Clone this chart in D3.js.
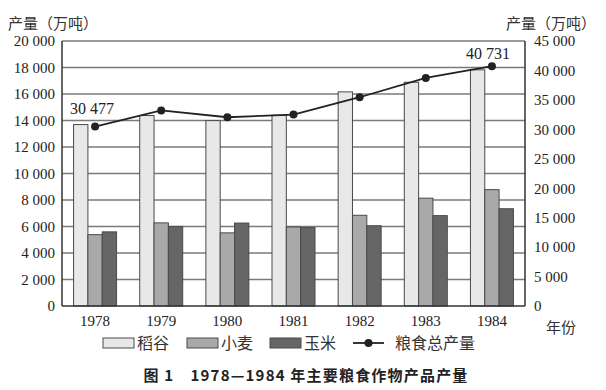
<!DOCTYPE html>
<html><head><meta charset="utf-8">
<script src="https://cdn.jsdelivr.net/npm/d3@7"></script>
<style>
body{margin:0;background:#fff;}
svg{display:block;}
.num{font-family:"Liberation Serif","Times New Roman",serif;}
.cjk{font-family:"Noto Sans CJK SC","Liberation Serif",serif;}
</style></head>
<body><svg id="c" width="606" height="390"></svg>
<script>
const years = ["1978","1979","1980","1981","1982","1983","1984"];
const rice  = [13693,14375,13991,14396,16160,16887,17826];
const wheat = [5384,6273,5521,5964,6847,8139,8782];
const corn  = [5595,6004,6260,5921,6056,6821,7341];
const total = [30477,33212,32056,32502,35450,38728,40731];
const leftTicks = [0,2000,4000,6000,8000,10000,12000,14000,16000,18000,20000];
const rightTicks = [0,5000,10000,15000,20000,25000,30000,35000,40000,45000];
const seriesNames = ["稻谷","小麦","玉米"];
const seriesColors = ["#e8e8e8","#a9a9a9","#666666"];
const lineName = "粮食总产量";
const axisTitle = "产量（万吨）";
const xTitle = "年份";
const caption = "图 1　1978—1984 年主要粮食作物产品产量";

const svg = d3.select("#c");
const L = 62, R = 525, T = 41, B = 306;
const fmt = v => d3.format(",")(v).replace(/,/g, " ");

const x = d3.scaleBand().domain(years).range([L, R]).paddingInner(0.35).paddingOuter(0.175);
const x1 = d3.scaleBand().domain([0,1,2]).range([0, x.bandwidth()]);
const yL = d3.scaleLinear().domain([0, 20000]).range([B, T]);
const yR = d3.scaleLinear().domain([0, 45000]).range([B, T]);
const xc = d => x(d) + x.bandwidth()/2;

// grid
svg.append("g").selectAll("line").data(leftTicks.filter(d=>d>0)).join("line")
  .attr("x1", L).attr("x2", R).attr("y1", d=>yL(d)).attr("y2", d=>yL(d))
  .attr("stroke", "#7a7a7a").attr("stroke-width", 1.3);

// bars
const series = [rice, wheat, corn];
series.forEach((vals, si) => {
  svg.append("g").selectAll("rect").data(years).join("rect")
    .attr("x", (d)=> x(d) + x1(si))
    .attr("y", (d,i)=> yL(vals[i]))
    .attr("width", x1.bandwidth())
    .attr("height", (d,i)=> B - yL(vals[i]))
    .attr("fill", seriesColors[si]).attr("stroke", "#4a4a4a").attr("stroke-width", 1);
});

// axes
const axL = svg.append("g").attr("transform", `translate(${L},0)`)
  .call(d3.axisLeft(yL).tickValues(leftTicks).tickFormat(fmt).tickSize(0).tickPadding(7));
const axR = svg.append("g").attr("transform", `translate(${R},0)`)
  .call(d3.axisRight(yR).tickValues(rightTicks).tickFormat(fmt).tickSize(0).tickPadding(9));
const axB = svg.append("g").attr("transform", `translate(0,${B})`)
  .call(d3.axisBottom(x).tickSize(0).tickPadding(9));
[axL, axR, axB].forEach(g => {
  g.select(".domain").attr("stroke", "#333").attr("stroke-width", 1.5);
  g.selectAll("text").attr("class", "num").attr("font-size", 15).attr("fill", "#222");
});
axL.select(".domain").attr("d", `M0,${B}V${T}`);
axR.select(".domain").attr("d", `M0,${B}V${T}`);
axB.select(".domain").attr("d", `M${L},0H${R}`);

// line
const line = d3.line().x((d,i)=>xc(years[i])).y(d=>yR(d));
svg.append("path").datum(total).attr("d", line).attr("fill","none").attr("stroke","#222").attr("stroke-width",1.8);
svg.append("g").selectAll("circle").data(total).join("circle")
  .attr("cx", (d,i)=>xc(years[i])).attr("cy", d=>yR(d)).attr("r", 4).attr("fill", "#222");

// data labels (first and last)
const lblIdx = [0, total.length-1];
const lblDx = [-3, -4], lblDy = [-13, -7];
lblIdx.forEach((i, k) => {
  svg.append("text").attr("class","num").attr("font-size",16).attr("fill","#222")
    .attr("x", xc(years[i]) + lblDx[k]).attr("y", yR(total[i]) + lblDy[k])
    .attr("text-anchor", "middle")
    .text(fmt(total[i]));
});

// axis titles
svg.append("text").attr("class","cjk").attr("font-size",15).attr("fill","#333")
  .attr("x", 8).attr("y", 29).text(axisTitle);
svg.append("text").attr("class","cjk").attr("font-size",15).attr("fill","#333")
  .attr("x", 506).attr("y", 29).text(axisTitle);
svg.append("text").attr("class","cjk").attr("font-size",15).attr("fill","#333")
  .attr("x", 546).attr("y", 333).text(xTitle);

// legend
const leg = svg.append("g");
const legX = [103, 187, 270];
seriesNames.forEach((n, i) => {
  leg.append("rect").attr("x", legX[i]).attr("y", 338).attr("width", 31).attr("height", 10)
    .attr("fill", seriesColors[i]).attr("stroke", "#4a4a4a").attr("stroke-width", 1);
  leg.append("text").attr("class","cjk").attr("font-size",16).attr("fill","#333")
    .attr("x", legX[i] + 34).attr("y", 349).text(n);
});
leg.append("line").attr("x1", 353).attr("x2", 384).attr("y1", 343).attr("y2", 343)
  .attr("stroke", "#222").attr("stroke-width", 1.8);
leg.append("circle").attr("cx", 368.5).attr("cy", 343).attr("r", 4).attr("fill", "#222");
leg.append("text").attr("class","cjk").attr("font-size",16).attr("fill","#333")
  .attr("x", 395).attr("y", 349).text(lineName);

// caption
svg.append("text").attr("class","cjk").attr("font-size",15).attr("font-weight","bold").attr("fill","#222")
  .attr("letter-spacing", 1.2)
  .attr("x", 306).attr("y", 381).attr("text-anchor","middle").text(caption);
</script></body></html>
